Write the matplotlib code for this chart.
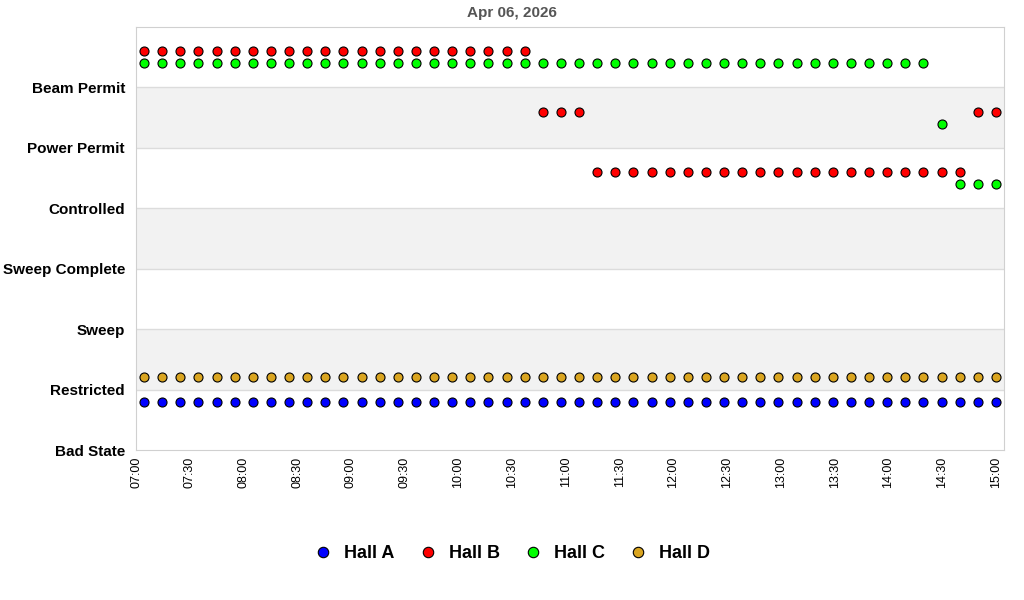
import matplotlib
matplotlib.use('Agg')
import matplotlib.pyplot as plt
import matplotlib.dates as mdates
from matplotlib.lines import Line2D
import pandas as pd
from datetime import datetime

plt.rcParams['font.family'] = ['Liberation Sans', 'DejaVu Sans']

# state categories, bottom to top
states = ['Bad State', 'Restricted', 'Sweep', 'Sweep Complete',
          'Controlled', 'Power Permit', 'Beam Permit']

# 48 samples across the day window
times = pd.date_range('2026-04-06 07:04:30', '2026-04-06 15:00:00', periods=48)

# state index per sample for each hall
hall_a = [1] * 48
hall_b = [6] * 22 + [5] * 3 + [4] * 21 + [5] * 2
hall_c = [6] * 44 + [5] * 1 + [4] * 3
hall_d = [1] * 48

halls = ['Hall A', 'Hall B', 'Hall C', 'Hall D']
colors = ['#0000ff', '#ff0000', '#00ff00', '#daa520']
# small vertical shift so halls in the same state don't overlap
offsets = [-0.2, 0.6, 0.4, 0.2]

fig = plt.figure(figsize=(10.24, 6.0), dpi=100)
ax = fig.add_axes([136 / 1024, 0.25, 868 / 1024, 0.705])

# alternating bands
for lo in (1, 3, 5):
    ax.axhspan(lo, lo + 1, color='#f2f2f2', zorder=0, lw=0)
for y in range(1, 7):
    ax.axhline(y, color='#dcdcdc', lw=1, zorder=1)

for vals, c, off in zip([hall_a, hall_b, hall_c, hall_d], colors, offsets):
    ax.plot(times, [v + off for v in vals], 'o', color=c, markersize=6.5,
            markeredgecolor='black', markeredgewidth=0.8, zorder=3)

ax.set_ylim(0, 7)
ax.set_yticks(range(len(states)))
ax.set_yticklabels(states, fontsize=11, fontweight='bold')
ax.set_xlim(datetime(2026, 4, 6, 7, 0), datetime(2026, 4, 6, 15, 4, 30))
ax.xaxis.set_major_locator(mdates.MinuteLocator(byminute=[0, 30]))
ax.xaxis.set_major_formatter(mdates.DateFormatter('%H:%M'))
plt.setp(ax.get_xticklabels(), rotation=90, fontsize=9)
ax.tick_params(axis='both', length=0)
ax.tick_params(axis='y', pad=8)
ax.tick_params(axis='x', pad=5)
for s in ax.spines.values():
    s.set_color('#d0d0d0')

fig.text(0.5, 1 - 13 / 600, 'Apr 06, 2026', ha='center', va='center',
         fontsize=11, fontweight='bold', color='#555555')

handles = [Line2D([], [], marker='o', ls='', color=c, markersize=7.5,
                  markeredgecolor='black', markeredgewidth=0.8) for c in colors]
fig.legend(handles, halls, loc='center', bbox_to_anchor=(0.5, 1 - 554 / 600),
           ncol=4, frameon=False, prop={'size': 13, 'weight': 'bold'},
           handletextpad=0.65, columnspacing=1.35, handlelength=1.0)

fig.savefig('out.png', dpi=100)
